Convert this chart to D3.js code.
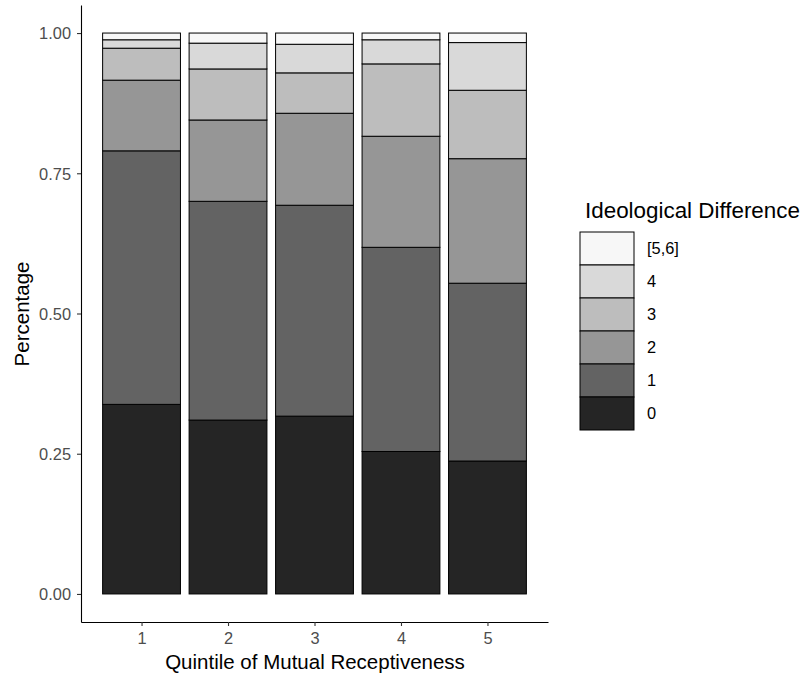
<!DOCTYPE html>
<html>
<head>
<meta charset="utf-8">
<script src="https://cdn.jsdelivr.net/npm/d3@7"></script>
<style>
	body { margin: 0; background: #fff; }
	text { font-family: "Liberation Sans", Arial, sans-serif; }
</style>
</head>
<body>
<svg id="chart" width="807" height="679"></svg>
<script>
// quintiles on the x axis
quintiles = [1, 2, 3, 4, 5]
// legend levels, bottom to top of each bar
levels = ['0', '1', '2', '3', '4', '[5,6]']
levelColors = ['#252525', '#636363', '#969696', '#bdbdbd', '#d9d9d9', '#f7f7f7']

// share of each ideological difference level, one value per quintile
diff0 = [0.338, 0.310, 0.317, 0.254, 0.237]
diff1 = [0.452, 0.390, 0.376, 0.364, 0.317]
diff2 = [0.126, 0.145, 0.164, 0.198, 0.222]
diff3 = [0.057, 0.091, 0.072, 0.129, 0.122]
diff4 = [0.015, 0.046, 0.051, 0.043, 0.085]
diff5 = [0.012, 0.018, 0.020, 0.012, 0.017]

yTicks = [0, 0.25, 0.5, 0.75, 1]

var series = [diff0, diff1, diff2, diff3, diff4, diff5]
var rows = quintiles.map(function (q, i) {
	var r = { quintile: q }
	levels.forEach(function (l, j) { r[l] = series[j][i] })
	return r
})

svg = d3.select('#chart')

xScale = d3.scaleLinear()
	.domain([0.3, 5.7])
	.range([81, 548])
yScale = d3.scaleLinear()
	.domain([-0.05, 1.05])
	.range([622, 5])
colorScale = d3.scaleOrdinal()
	.domain(levels)
	.range(levelColors)

barWidth = xScale(0.9) - xScale(0)

stacked = d3.stack().keys(levels)(rows)

// bars
svg.append('g')
	.attr('class', 'bars')
	.selectAll('g')
	.data(stacked)
	.enter()
	.append('g')
	.attr('fill', function (d) { return colorScale(d.key) })
	.selectAll('rect')
	.data(function (d) { return d })
	.enter()
	.append('rect')
	.attr('x', function (d) { return xScale(d.data.quintile) - barWidth / 2 })
	.attr('width', barWidth)
	.attr('y', function (d) { return yScale(d[1]) })
	.attr('height', function (d) { return yScale(d[0]) - yScale(d[1]) })
	.attr('stroke', '#000')
	.attr('stroke-width', 1)

// y axis
yAxis = svg.append('g')
	.attr('transform', 'translate(81,0)')
	.call(d3.axisLeft(yScale).tickValues(yTicks).tickFormat(d3.format('.2f'))
		.tickSizeInner(4).tickSizeOuter(0).tickPadding(6))
// x axis
xAxis = svg.append('g')
	.attr('transform', 'translate(0,622)')
	.call(d3.axisBottom(xScale).tickValues(quintiles).tickFormat(d3.format('d'))
		.tickSizeInner(4).tickSizeOuter(0).tickPadding(6))

for (ax of [xAxis, yAxis]) {
	ax.select('.domain').attr('stroke', '#000').attr('stroke-width', 1.1)
	ax.selectAll('.tick line').attr('stroke', '#333').attr('stroke-width', 1.1)
	ax.selectAll('.tick text')
		.attr('fill', '#4d4d4d')
		.style('font-size', '16.4px')
		.style('font-family', '"Liberation Sans", Arial, sans-serif')
}
yAxis.selectAll('.tick text').attr('dy', '0.35em')

// axis titles
svg.append('text')
	.attr('x', 315)
	.attr('y', 669)
	.attr('text-anchor', 'middle')
	.style('font-size', '20.5px')
	.text('Quintile of Mutual Receptiveness')
svg.append('text')
	.attr('transform', 'translate(29,314) rotate(-90)')
	.attr('text-anchor', 'middle')
	.style('font-size', '20.5px')
	.text('Percentage')

// legend
keyH = 33
keyW = 54
legend = svg.append('g').attr('transform', 'translate(580,232)')
legend.append('text')
	.attr('x', 5)
	.attr('y', -14)
	.style('font-size', '22.4px')
	.text('Ideological Difference')
legendItems = legend.selectAll('g.item')
	.data(levels.slice().reverse())
	.enter()
	.append('g')
	.attr('class', 'item')
	.attr('transform', function (d, i) { return 'translate(0,' + (i * keyH) + ')' })
legendItems.append('rect')
	.attr('width', keyW)
	.attr('height', keyH)
	.attr('fill', function (d) { return colorScale(d) })
	.attr('stroke', '#000')
	.attr('stroke-width', 1)
legendItems.append('text')
	.attr('x', 67)
	.attr('y', keyH / 2)
	.attr('dy', '0.35em')
	.style('font-size', '16.4px')
	.text(function (d) { return d })
</script>
</body>
</html>
